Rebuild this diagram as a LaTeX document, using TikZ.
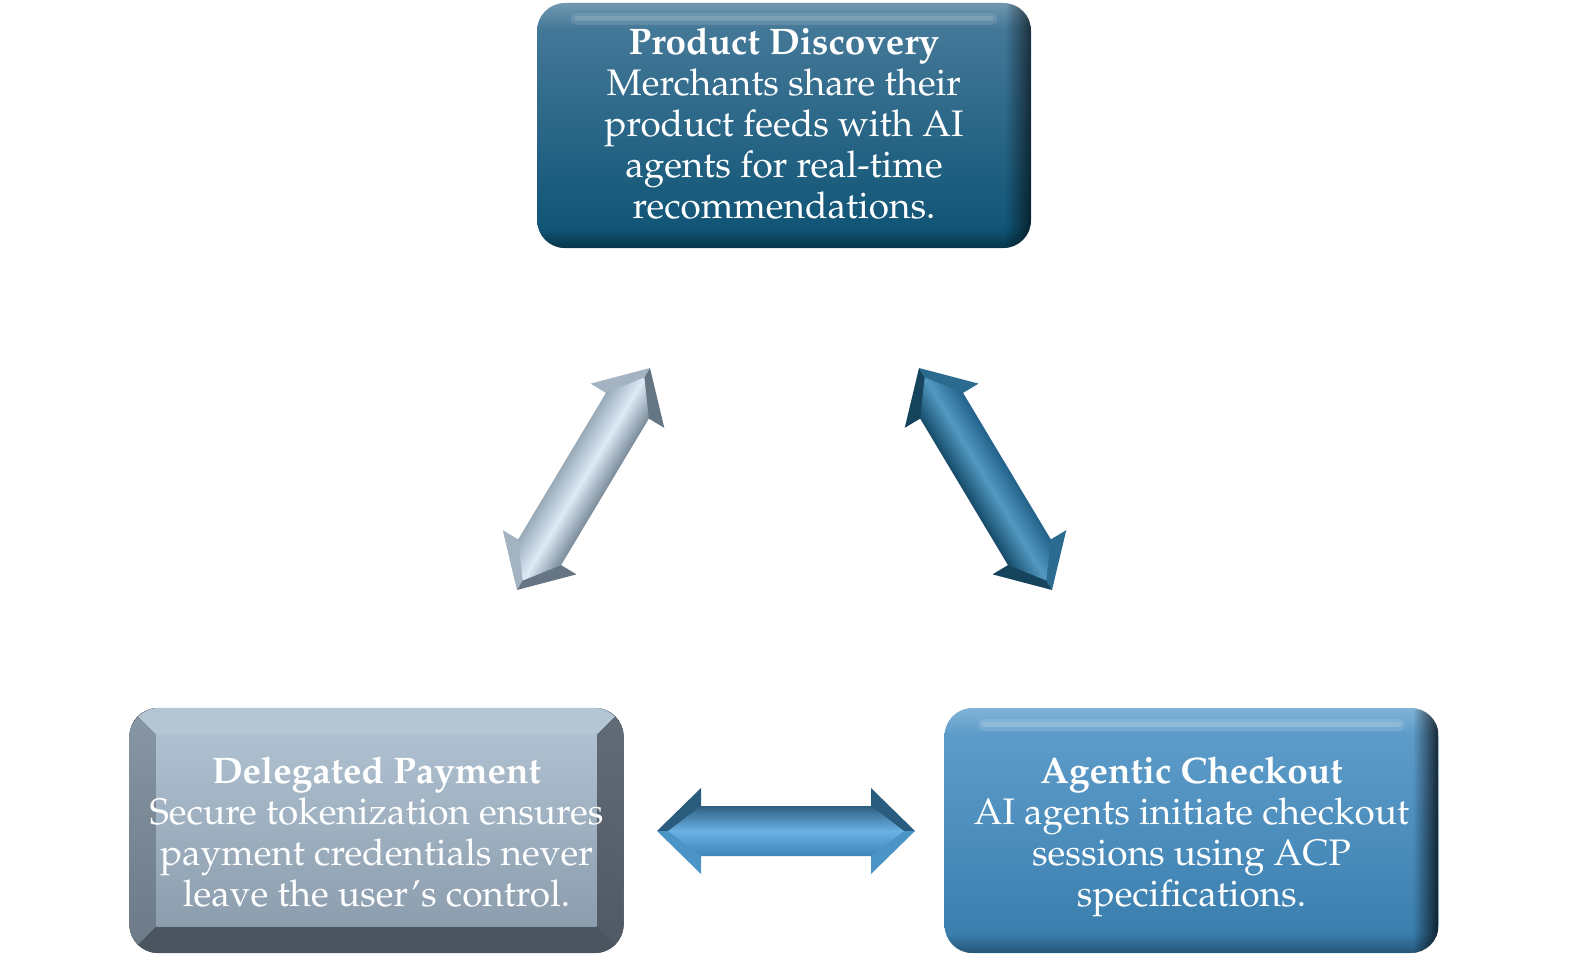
\documentclass[tikz,border=0pt]{standalone}
\usepackage[T1]{fontenc}
\usepackage{mathpazo}
\usetikzlibrary{calc,fadings}

\definecolor{pdTop}{HTML}{4A7C9C}
\definecolor{pdBot}{HTML}{0C5273}
\definecolor{acTop}{HTML}{62A0CD}
\definecolor{acBot}{HTML}{377CAC}
\definecolor{dpFaceTop}{HTML}{AFC1D1}
\definecolor{dpFaceBot}{HTML}{8C9DAE}
\definecolor{dpBevTop}{HTML}{B4C5D4}
\definecolor{dpBevLeftTop}{HTML}{8897A5}
\definecolor{dpBevLeftBot}{HTML}{6C7986}
\definecolor{dpBevRightTop}{HTML}{626C78}
\definecolor{dpBevRightBot}{HTML}{4F5964}
\definecolor{dpBevBot}{HTML}{4B5560}
% arrow colours
\definecolor{lhUp}{HTML}{A3B3C1}
\definecolor{lhDn}{HTML}{667583}
\definecolor{lsTop}{HTML}{98A9B8}
\definecolor{lsMid}{HTML}{DDEBF7}
\definecolor{lsBot}{HTML}{7A8A98}
\definecolor{rhUp}{HTML}{2C6B90}
\definecolor{rhDn}{HTML}{15445C}
\definecolor{rsTop}{HTML}{22618A}
\definecolor{rsMid}{HTML}{5299C2}
\definecolor{rsBot}{HTML}{164B69}
\definecolor{hhUp}{HTML}{2A5C7E}
\definecolor{hhDn}{HTML}{4B94C6}
\definecolor{hsTop}{HTML}{2F5F80}
\definecolor{hsMid}{HTML}{6AB2E4}
\definecolor{hsBot}{HTML}{3F86B8}

\newcommand\dblarrow[7]{%
  \pgfpointdiff{\pgfpointanchor{#1}{center}}{\pgfpointanchor{#2}{center}}%
  \pgfgetlastxy{\arDx}{\arDy}%
  \pgfmathsetmacro\arAng{atan2(\arDy,\arDx)}%
  \pgfmathsetmacro\arLen{veclen(\arDx,\arDy)}%
  \pgfmathsetmacro\arEnd{\arLen-44}%
  \pgfmathsetmacro\arTipIn{\arLen-11}%
  \begin{scope}[transform canvas={shift={(#1)},rotate=\arAng}]
    \fill[#3] (0,0) -- (44,-43) -- (44,0) -- cycle;
    \fill[#4] (0,0) -- (44,43) -- (44,0) -- cycle;
    \fill[#3] (\arLen,0) -- (\arEnd,-43) -- (\arEnd,0) -- cycle;
    \fill[#4] (\arLen,0) -- (\arEnd,43) -- (\arEnd,0) -- cycle;
    \shade[top color=#5, bottom color=#7, middle color=#6]
      (11,0) -- (44,-25) -- (\arEnd,-25) -- (\arTipIn,0) -- (\arEnd,25) -- (44,25) -- cycle;
  \end{scope}}

\tikzset{
  boxtext/.style={text=white, align=center, inner sep=0pt,
    font=\fontsize{36.9}{41}\selectfont},
  card/.style={minimum width=494pt, minimum height=245pt, inner sep=0pt,
    rounded corners=28pt},
  glow/.style={white, line cap=round},
}

\begin{document}
\begin{tikzpicture}[x=1pt,y=-1pt]
\fill[white] (0,0) rectangle (1574,960);
\useasboundingbox (0,0) rectangle (1574,960);

% ---------- Product Discovery ----------
\node[card, top color=pdTop, bottom color=pdBot] (pd) at (784,125.5) {};
\begin{scope}
  \clip[rounded corners=28pt] (pd.north west) rectangle (pd.south east);
  \fill[white, opacity=0.22, path fading=south] (pd.north west) rectangle ($(pd.north east)+(0,26)$);
  \fill[black, opacity=0.35, path fading=north] ($(pd.south west)+(0,-20)$) rectangle (pd.south east);
  \fill[black, opacity=0.6, path fading=west] ($(pd.north east)+(-26,0)$) rectangle (pd.south east);
\end{scope}
\draw[glow, opacity=0.10, line width=12pt] ($(pd.north west)+(40,16)$) -- ($(pd.north east)+(-40,16)$);
\draw[glow, opacity=0.12, line width=5pt] ($(pd.north west)+(40,16)$) -- ($(pd.north east)+(-40,16)$);
\node[boxtext] (pdt) at (784,124) {\textbf{Product Discovery}\\Merchants share their\\product feeds with AI\\agents for real-time\\recommendations.};

% ---------- Agentic Checkout ----------
\node[card, top color=acTop, bottom color=acBot] (ac) at (1191.5,830.5) {};
\begin{scope}
  \clip[rounded corners=28pt] (ac.north west) rectangle (ac.south east);
  \fill[white, opacity=0.2, path fading=south] (ac.north west) rectangle ($(ac.north east)+(0,26)$);
  \fill[black, opacity=0.3, path fading=north] ($(ac.south west)+(0,-20)$) rectangle (ac.south east);
  \fill[black, opacity=0.75, path fading=west] ($(ac.north east)+(-26,0)$) rectangle (ac.south east);
\end{scope}
\draw[glow, opacity=0.12, line width=12pt] ($(ac.north west)+(40,17)$) -- ($(ac.north east)+(-40,17)$);
\draw[glow, opacity=0.15, line width=5pt] ($(ac.north west)+(40,17)$) -- ($(ac.north east)+(-40,17)$);
\node[boxtext] (act) at (1191.5,837) {\textbf{Agentic Checkout}\\AI agents initiate checkout\\sessions using ACP\\specifications.};

% ---------- Delegated Payment (bevel) ----------
\node[card, fill=dpBevBot] (dp) at (376.5,830.5) {};
\begin{scope}
  \clip[rounded corners=30pt] (dp.north west) rectangle (dp.south east);
  \fill[dpBevBot] (dp.north west) rectangle (dp.south east);
  \fill[dpBevTop] (dp.north west) -- (dp.north east) -- ($(dp.north east)+(-27,27)$) -- ($(dp.north west)+(27,27)$) -- cycle;
  \shade[top color=dpBevLeftTop, bottom color=dpBevLeftBot] (dp.north west) -- ($(dp.north west)+(27,27)$) -- ($(dp.south west)+(27,-27)$) -- (dp.south west) -- cycle;
  \shade[top color=dpBevRightTop, bottom color=dpBevRightBot] (dp.north east) -- ($(dp.north east)+(-27,27)$) -- ($(dp.south east)+(-27,-27)$) -- (dp.south east) -- cycle;
  \shade[top color=dpFaceTop, bottom color=dpFaceBot] ($(dp.north west)+(27,27)$) rectangle ($(dp.south east)+(-27,-27)$);
\end{scope}
\node[boxtext] (dpt) at (376.5,832.5) {\textbf{Delegated Payment}\\Secure tokenization ensures\\payment credentials never\\leave the user's control.};

% ---------- Arrows ----------
\coordinate (aL1) at (517,590);
\coordinate (aL2) at (650,368);
\coordinate (aR1) at (919,368);
\coordinate (aR2) at (1052,590);
\coordinate (aH1) at (657,831);
\coordinate (aH2) at (915,831);
\dblarrow{aL1}{aL2}{lhUp}{lhDn}{lsTop}{lsMid}{lsBot}
\dblarrow{aR1}{aR2}{rhUp}{rhDn}{rsTop}{rsMid}{rsBot}
\dblarrow{aH1}{aH2}{hhUp}{hhDn}{hsTop}{hsMid}{hsBot}
\end{tikzpicture}
\end{document}
